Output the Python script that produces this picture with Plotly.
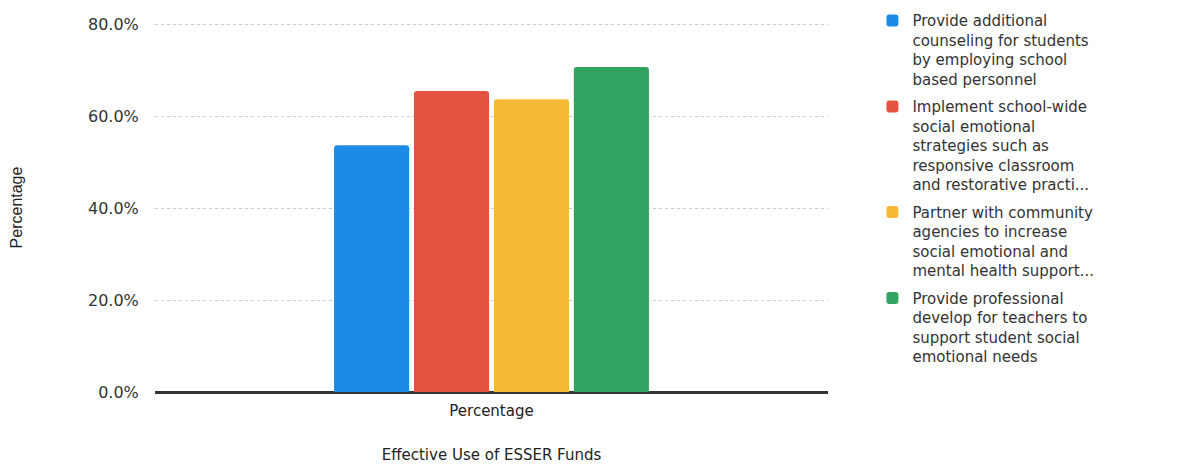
import plotly.graph_objects as go

categories = ["Percentage"]
series_names = [
    "Provide additional<br>counseling for students<br>by employing school<br>based personnel",
    "Implement school-wide<br>social emotional<br>strategies such as<br>responsive classroom<br>and restorative practi...",
    "Partner with community<br>agencies to increase<br>social emotional and<br>mental health support...",
    "Provide professional<br>develop for teachers to<br>support student social<br>emotional needs",
]
values = [0.537, 0.655, 0.637, 0.707]
colors = ["#1c8ae6", "#e4533f", "#f5b935", "#2fa35f"]
y_ticks = [0, 0.2, 0.4, 0.6, 0.8]

FONT = "DejaVu Sans"
fig = go.Figure()
for i, (name, v, c) in enumerate(zip(series_names, values, colors)):
    fig.add_trace(go.Bar(
        x=categories, y=[v], name=name, marker_color=c,
        marker_line_width=0, legendgroup=f"g{i}",
    ))

fig.update_layout(
    width=1171, height=456,
    margin=dict(l=147, r=351, t=15, b=72, autoexpand=False),
    paper_bgcolor="white", plot_bgcolor="white",
    barmode="group", bargap=0.525, bargroupgap=0.06,
    barcornerradius=3,
    font=dict(family=FONT, color="#333333", size=15),
    legend=dict(
        x=1.066, y=1.051, xanchor="left", yanchor="top",
        font=dict(family=FONT, size=15, color="#333333"),
        valign="top", tracegroupgap=5, traceorder="grouped",
        itemclick=False, maxheight=1.0,
    ),
    showlegend=True,
)
fig.update_yaxes(
    range=[0, 0.8027], tickvals=y_ticks, tickformat=".1%",
    showgrid=True, gridcolor="#cccccc", griddash="dot", gridwidth=1,
    zeroline=True, zerolinecolor="#333333", zerolinewidth=1.5,
    ticks="outside", ticklen=12, tickcolor="rgba(0,0,0,0)",
    tickfont=dict(family=FONT, size=16, color="#333333"),
    title=dict(text="Percentage", font=dict(family="Liberation Sans Narrow, Liberation Sans", size=16, color="#222222"), standoff=61),
)
fig.update_xaxes(
    showline=True, linecolor="#333333", linewidth=1.5,
    tickfont=dict(family=FONT, size=15, color="#222222"),
    ticks="outside", ticklen=4, tickcolor="rgba(0,0,0,0)",
    title=dict(text="Effective Use of ESSER Funds", font=dict(family=FONT, size=15, color="#222222"), standoff=31),
)

fig.write_html("out.html")
